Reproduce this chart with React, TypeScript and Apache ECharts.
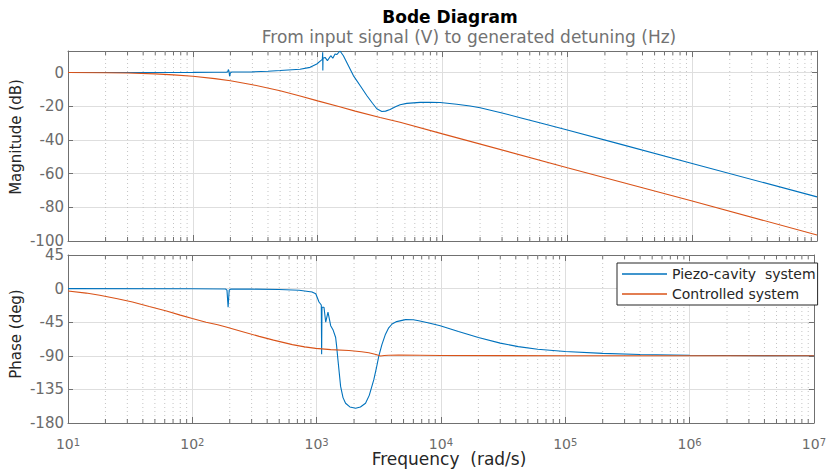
import React, { useEffect, useRef } from "react";
import * as echarts from "echarts";

// ---- data (frequency rad/s, value) ----
const piezoMagnitude: [number, number][] = [
  [10, 0], [50, 0.05], [100, 0.1], [150, 0.15], [185, 0.2], [190, 0.4], [193, 1.8], [195, 0.5],
  [197, -2.2], [200, -0.2], [205, 0.3], [300, 0.4], [400, 0.8], [500, 1.2], [723, 2.0], [869, 3.1],
  [984, 5.1], [1059, 7.1], [1090, 7.8], [1097, 12.0], [1100, 1.2], [1104, 8.5], [1146, 9.0],
  [1197, 7.1], [1274, 10.0], [1322, 8.5], [1378, 11.0], [1422, 10.7], [1510, 12.8], [1607, 10.0],
  [1760, 4.2], [1932, -1.8], [2200, -8.0], [2473, -13.6], [2750, -18.2], [2976, -21.5], [3265, -23.1],
  [3500, -22.9], [3802, -21.9], [4200, -20.3], [4572, -19.1], [5177, -18.3], [6622, -17.7], [8000, -17.6],
  [9574, -17.8], [13000, -18.8], [16630, -19.9], [20000, -20.9], [30000, -24.0], [41880, -26.8],
  [60000, -29.8], [100000, -34.1], [265000, -42.5], [1000000, -54.0], [10000000, -73.8],
];
const controlledMagnitude: [number, number][] = [
  [10, 0], [20, -0.1], [30, -0.3], [50, -0.8], [70, -1.4], [100, -2.2], [150, -3.6], [200, -4.9],
  [300, -7.2], [500, -10.8], [723, -13.9], [1000, -16.8], [1500, -20.3], [2000, -22.9], [3162, -26.7],
  [4572, -29.5], [10000, -36.4], [100000, -56.5], [1000000, -76.3], [10000000, -96.4],
];
const piezoPhase: [number, number][] = [
  [10, 0], [100, -0.2], [185, -0.5], [190, -2], [194, -24.8], [198, -2], [205, -0.5], [300, -0.7],
  [500, -1.2], [723, -2.3], [918, -4.5], [984, -7], [1045, -18], [1090, -22], [1097, -88], [1100, -88],
  [1104, -25], [1146, -25], [1183, -45], [1234, -31.6], [1297, -49.7], [1353, -55], [1422, -65.5],
  [1450, -78], [1483, -95], [1559, -131], [1630, -146], [1709, -153.6], [1850, -158.5], [2057, -160.3],
  [2250, -158.5], [2473, -153.6], [2650, -143], [2884, -122], [3020, -107], [3162, -90.3], [3350, -75],
  [3580, -61], [3800, -52.5], [4046, -47.4], [4400, -44.2], [5177, -41.6], [6000, -41.8], [6622, -43],
  [8000, -46], [9865, -49.7], [13830, -57.4], [20000, -65.5], [30000, -73], [41880, -77.7], [60000, -81.2],
  [100000, -84.2], [200000, -86.8], [400000, -88.3], [1000000, -89.3], [10000000, -90],
];
const controlledPhase: [number, number][] = [
  [10, -3.2], [14, -6], [18, -9], [25, -13.5], [33, -18], [45, -24], [62, -30], [80, -35.5],
  [100, -40], [129, -45], [160, -48.5], [187, -51.5], [250, -57.5], [345, -64], [450, -69], [638, -75],
  [800, -78], [984, -80], [1300, -81.7], [1819, -83], [2300, -84.6], [2630, -86], [3000, -88.2],
  [3265, -90.3], [3500, -89.6], [3800, -89.2], [4572, -89], [10000, -89.5], [100000, -89.9], [10000000, -90],
];

const seriesNames = ["Piezo-cavity  system", "Controlled system"];
const magnitudeTicks = [-100, -80, -60, -40, -20, 0];
const phaseTicks = [-180, -135, -90, -45, 0, 45];
const decadeStarts = [10, 100, 1000, 10000, 100000, 1000000];
const minorMultipliers = [2, 3, 4, 5, 6, 7, 8, 9];

const FONT = "DejaVu Sans";
const BOX = "#707070";
const GRID = "#dedede";
const LABEL = "#6b6b6b";
const BLUE = "#0072BD";
const ORANGE = "#D95319";

export default function App() {
  const ref = useRef<HTMLDivElement>(null);

  useEffect(() => {
    if (!ref.current) return;
    const chart = echarts.init(ref.current, undefined, { renderer: "svg" });

    const minorTicks: [number, number][] = [];
    decadeStarts.forEach((d) => minorMultipliers.forEach((m) => minorTicks.push([d * m, 0])));

    const minorRender = (params: any, api: any) => {
      const cs = params.coordSys;
      const x = api.coord([api.value(0), api.value(1)])[0];
      const top = cs.y;
      const bottom = cs.y + cs.height;
      return {
        type: "group",
        children: [
          { type: "line", shape: { x1: x, y1: top, x2: x, y2: bottom }, style: { stroke: "#c4c4c4", lineWidth: 1, lineDash: [1, 3] } },
          { type: "line", shape: { x1: x, y1: bottom, x2: x, y2: bottom - 4 }, style: { stroke: BOX, lineWidth: 1 } },
          { type: "line", shape: { x1: x, y1: top, x2: x, y2: top + 4 }, style: { stroke: BOX, lineWidth: 1 } },
        ],
      };
    };

    const xBase = (gridIndex: number, position: "top" | "bottom", labels: boolean, split: boolean) => ({
      type: "log",
      logBase: 10,
      gridIndex,
      position,
      min: 10,
      max: 10000000,
      axisLine: { show: true, onZero: false, lineStyle: { color: BOX, width: 1 } },
      axisTick: { show: true, inside: true, length: 6, lineStyle: { color: BOX } },
      splitLine: { show: split, lineStyle: { color: GRID, width: 1 } },
      axisLabel: labels
        ? {
            show: true,
            margin: 14,
            formatter: (v: number) => `{b|10}{s|${Math.round(Math.log10(v))}}`,
            rich: {
              b: { fontSize: 14, fontFamily: FONT, color: LABEL, lineHeight: 13 },
              s: { fontSize: 10, fontFamily: FONT, color: LABEL, lineHeight: 4, verticalAlign: "top" },
            },
          }
        : { show: false },
    });

    const yBase = (gridIndex: number, position: "left" | "right", min: number, max: number, interval: number, ticks: number[], labels: boolean, split: boolean) => ({
      type: "value",
      gridIndex,
      position,
      min,
      max,
      interval,
      axisLine: { show: true, onZero: false, lineStyle: { color: BOX, width: 1 } },
      axisTick: { show: true, inside: true, length: 5, lineStyle: { color: BOX } },
      splitLine: { show: split, lineStyle: { color: GRID, width: 1 } },
      axisLabel: labels
        ? {
            show: true,
            margin: 4,
            fontSize: 15,
            lineHeight: 12,
            fontFamily: FONT,
            color: LABEL,
            formatter: (v: number) => (ticks.indexOf(v) >= 0 ? String(v) : ""),
          }
        : { show: false },
    });

    const lineSeries = (name: string, data: [number, number][], color: string, xi: number, yi: number) => ({
      type: "line",
      name,
      data,
      xAxisIndex: xi,
      yAxisIndex: yi,
      symbol: "none",
      showSymbol: false,
      smooth: false,
      color,
      lineStyle: { color, width: 1.1 },
      z: 3,
    });

    chart.setOption({
      animation: false,
      backgroundColor: "#ffffff",
      textStyle: { fontFamily: FONT },
      grid: [
        { left: 68, top: 51, width: 749, height: 190, containLabel: false },
        { left: 68, top: 255, width: 749, height: 168, containLabel: false },
      ],
      xAxis: [
        xBase(0, "bottom", false, true),
        xBase(0, "top", false, false),
        xBase(1, "bottom", true, true),
        xBase(1, "top", false, false),
      ],
      yAxis: [
        yBase(0, "left", -100, 12.8, 20, magnitudeTicks, true, true),
        yBase(0, "right", -100, 12.8, 20, magnitudeTicks, false, false),
        yBase(1, "left", -180, 45, 45, phaseTicks, true, true),
        yBase(1, "right", -180, 45, 45, phaseTicks, false, false),
      ],
      legend: {
        data: seriesNames,
        orient: "vertical",
        left: 617,
        top: 263,
        padding: [1, 2, 1, 5],
        icon: "rect",
        itemGap: 0,
        itemWidth: 45,
        itemHeight: 1.5,
        itemTextGap: 4,
        borderColor: "#262626",
        borderWidth: 1,
        borderRadius: 0,
        backgroundColor: "#ffffff",
        textStyle: { fontSize: 14, lineHeight: 20, fontFamily: FONT, color: "#262626" },
      },
      series: [
        { type: "custom", renderItem: minorRender, data: minorTicks, xAxisIndex: 0, yAxisIndex: 0, z: 1, silent: true, clip: false },
        { type: "custom", renderItem: minorRender, data: minorTicks, xAxisIndex: 2, yAxisIndex: 2, z: 1, silent: true, clip: false },
        lineSeries(seriesNames[0], piezoMagnitude, BLUE, 0, 0),
        lineSeries(seriesNames[1], controlledMagnitude, ORANGE, 0, 0),
        lineSeries(seriesNames[0], piezoPhase, BLUE, 2, 2),
        lineSeries(seriesNames[1], controlledPhase, ORANGE, 2, 2),
      ],
      graphic: [
        { type: "text", x: 450, y: 16.5, style: { text: "Bode Diagram", fontSize: 17, fontWeight: "bold", fontFamily: FONT, fill: "#000", align: "center", verticalAlign: "middle" } },
        { type: "text", x: 469, y: 37, style: { text: "From input signal (V) to generated detuning (Hz)", fontSize: 17, fontFamily: FONT, fill: "#727272", align: "center", verticalAlign: "middle" } },
        { type: "text", x: 15, y: 137, rotation: Math.PI / 2, scaleY: 1.1, style: { text: "Magnitude (dB)", fontSize: 15, fontFamily: FONT, fill: "#262626", align: "center", verticalAlign: "middle" } },
        { type: "text", x: 15, y: 334, rotation: Math.PI / 2, scaleY: 1.1, style: { text: "Phase (deg)", fontSize: 15, fontFamily: FONT, fill: "#262626", align: "center", verticalAlign: "middle" } },
        { type: "text", x: 449, y: 458.5, style: { text: "Frequency  (rad/s)", fontSize: 17, lineHeight: 14, fontFamily: FONT, fill: "#262626", align: "center", verticalAlign: "middle" } },
      ],
    });

    return () => chart.dispose();
  }, []);

  return (
    <div
      ref={ref}
      style={{ position: "fixed", left: 0, top: 0, width: 829, height: 476, background: "#fff" }}
    />
  );
}
